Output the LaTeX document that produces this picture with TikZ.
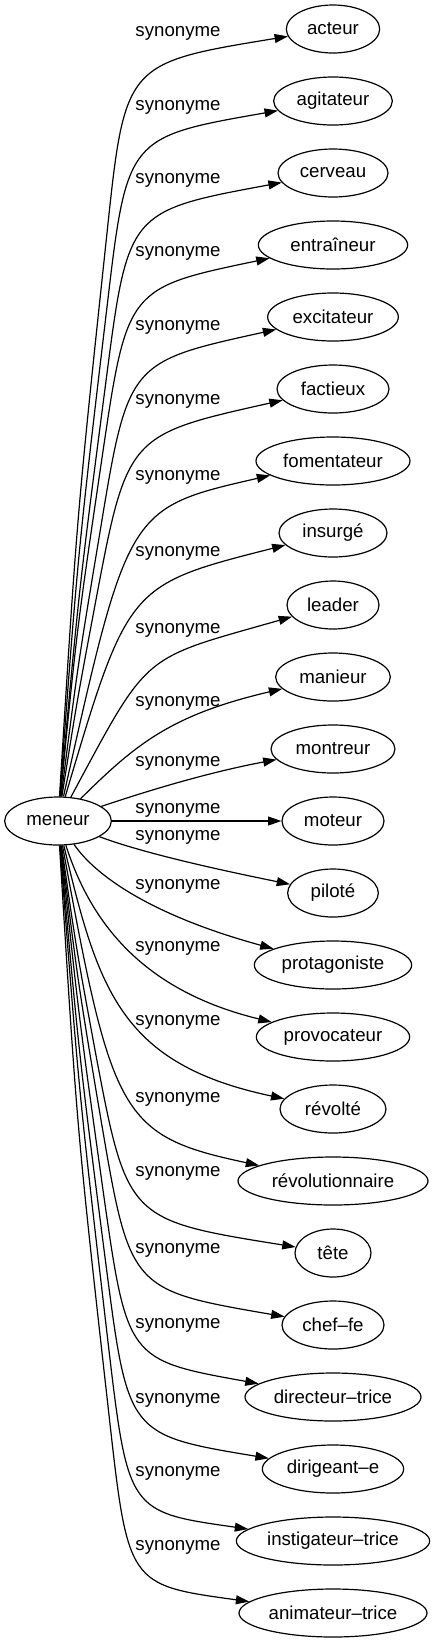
\documentclass[tikz,border=0pt]{standalone}
\usepackage{fontspec}
\setmainfont{Liberation Sans}
\usetikzlibrary{shapes.geometric,arrows.meta}

\begin{document}
\begin{tikzpicture}[x=0.75pt,y=-0.75pt]
          \useasboundingbox (0,0) rectangle (435,1643);
          \tikzstyle{every node} = [draw, ellipse, line width=0.9pt, inner xsep=0pt, minimum height=36pt, font=\fontsize{14}{16}\selectfont];
          \node[minimum width=80pt](0) at (58,821) {meneur};
          \node[minimum width=70pt](1) at (333,29) {acteur};
          \node[minimum width=89pt](2) at (333,101) {agitateur};
          \node[minimum width=82.5pt](3) at (333,173) {cerveau};
          \node[minimum width=112pt](4) at (333,245) {entraîneur};
          \node[minimum width=98pt](5) at (333,317) {excitateur};
          \node[minimum width=84pt](6) at (333,389) {factieux};
          \node[minimum width=115.5pt](7) at (333,461) {fomentateur};
          \node[minimum width=81pt](8) at (333,533) {insurgé};
          \node[minimum width=69pt](9) at (333,605) {leader};
          \node[minimum width=86pt](10) at (333,677) {manieur};
          \node[minimum width=93pt](11) at (333,749) {montreur};
          \node[minimum width=76.5pt](12) at (333,821) {moteur};
          \node[minimum width=68pt](13) at (333,893) {piloté};
          \node[minimum width=118pt](14) at (333,965) {protagoniste};
          \node[minimum width=115pt](15) at (333,1037) {provocateur};
          \node[minimum width=79.5pt](16) at (333,1109) {révolté};
          \node[minimum width=142.5pt](17) at (333,1181) {révolutionnaire};
          \node[minimum width=57pt](18) at (333,1253) {tête};
          \node[minimum width=76.5pt](19) at (333,1325) {chef–fe};
          \node[minimum width=132pt](20) at (333,1397) {directeur–trice};
          \node[minimum width=106pt](21) at (333,1469) {dirigeant–e};
          \node[minimum width=145pt](22) at (333,1541) {instigateur–trice};
          \node[minimum width=141pt](23) at (333,1613) {animateur–trice};
          \tikzstyle{every node} = [font=\fontsize{14}{16}\selectfont]
          \node(s1) at (178,33) {synonyme};
          \node(s2) at (178,107) {synonyme};
          \node(s3) at (178,180) {synonyme};
          \node(s4) at (178,253) {synonyme};
          \node(s5) at (178,327) {synonyme};
          \node(s6) at (178,401) {synonyme};
          \node(s7) at (178,477) {synonyme};
          \node(s8) at (178,553) {synonyme};
          \node(s9) at (178,630) {synonyme};
          \node(s10) at (178,703) {synonyme};
          \node(s11) at (178,763) {synonyme};
          \node(s12) at (178,810) {synonyme};
          \node(s13) at (178,837) {synonyme};
          \node(s14) at (178,886) {synonyme};
          \node(s15) at (178,948) {synonyme};
          \node(s16) at (178,1022) {synonyme};
          \node(s17) at (178,1099) {synonyme};
          \node(s18) at (178,1173) {synonyme};
          \node(s19) at (178,1250) {synonyme};
          \node(s20) at (178,1325) {synonyme};
          \node(s21) at (178,1400) {synonyme};
          \node(s22) at (178,1473) {synonyme};
          \node(s23) at (178,1547) {synonyme};
          \tikzstyle{syn} = [line width=0.9pt, -{Triangle[length=10pt,width=6.7pt]}]
          \draw[syn] (0) .. controls (77,515) .. (107,233) .. controls (125,63) .. (1);
          \draw[syn] (0) .. controls (78,552) .. (107,307) .. controls (127,137) .. (2);
          \draw[syn] (0) .. controls (79,589) .. (106,381) .. controls (128,211) .. (3);
          \draw[syn] (0) .. controls (77,628) .. (102,458) .. controls (127,288) .. (4);
          \draw[syn] (0) .. controls (78,664) .. (100,532) .. controls (128,362) .. (5);
          \draw[syn] (0) .. controls (77,701) .. (95,605) .. controls (127,435) .. (6);
          \draw[syn] (0) .. controls (128,508) .. (7);
          \draw[syn] (0) .. controls (128,585) .. (8);
          \draw[syn] (0) .. controls (150,650) and (140,660) .. (9);
          \draw[syn] (0) .. controls (135,745) and (170,715) .. (10);
          \draw[syn] (0) .. controls (150,790) and (210,772) .. (11);
          \draw[syn] (0) -- (12);
          \draw[syn] (0) .. controls (140,852) and (210,868) .. (13);
          \draw[syn] (0) .. controls (95,875) and (150,915) .. (14);
          \draw[syn] (0) .. controls (90,920) and (140,990) .. (15);
          \draw[syn] (0) .. controls (98,989) and (120,1064) .. (16);
          \draw[syn] (0) .. controls (112,1116) and (120,1136) .. (17);
          \draw[syn] (0) .. controls (76,947) .. (95,1050) .. controls (127,1220) .. (18);
          \draw[syn] (0) .. controls (78,983) .. (101,1120) .. controls (130,1290) .. (19);
          \draw[syn] (0) .. controls (79,1018) .. (103,1190) .. controls (127,1360) .. (20);
          \draw[syn] (0) .. controls (79,1055) .. (106,1265) .. controls (128,1435) .. (21);
          \draw[syn] (0) .. controls (79,1093) .. (108,1342) .. controls (128,1512) .. (22);
          \draw[syn] (0) .. controls (77,1130) .. (109,1415) .. controls (128,1585) .. (23);
\end{tikzpicture}
\end{document}
